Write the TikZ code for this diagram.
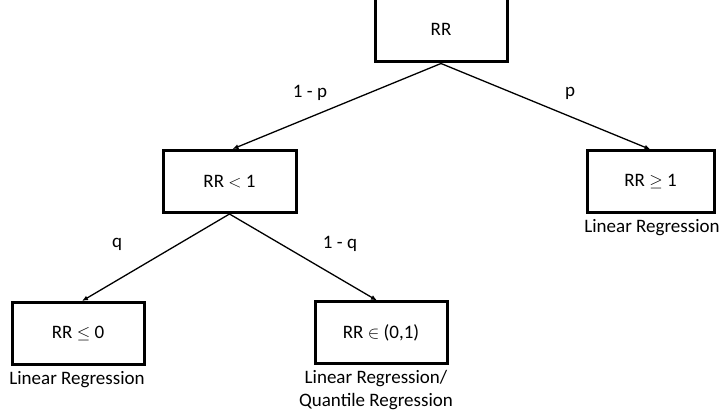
\documentclass[tikz,border=0pt]{standalone}
\usepackage{fontspec}
\usepackage{amssymb}
\setmainfont{Carlito}
\usetikzlibrary{arrows.meta,calc}
\begin{document}
\begin{tikzpicture}[x=1pt,y=-1pt,
  box/.style={draw,line width=3pt,rectangle,minimum width=#1,minimum height=62pt,inner sep=0pt,font=\fontsize{19}{22}\selectfont},
  box/.default=132pt,
  lbl/.style={font=\fontsize{19}{23}\selectfont,inner sep=0pt,align=center},
  conn/.style={line width=1.3pt,-{Latex[length=6pt,width=5pt]}}]
\useasboundingbox (0,0) rectangle (720,419);
\node[box,minimum height=66pt] (root) at (441,29) {RR};
\node[box=133pt] (lt) at (229.5,181.5) {RR $<$ 1};
\node[box=127pt] (ge) at (650.5,182) {RR $\geq$ 1};
\node[box] (le) at (78,333.5) {RR $\leq$ 0};
\node[box] (in) at (381,333) {RR $\in$ (0,1)};
\node[lbl] (gel) at (652,228) {Linear Regression};
\node[lbl] (lel) at (77,380) {Linear Regression};
\node[lbl] (inl) at (376,390) {Linear Regression/\\Quantile Regression};
\draw[conn] (root.south) -- ([xshift=3pt]lt.north);
\draw[conn] (root.south) -- (ge.north);
\draw[conn] (lt.south) -- ([xshift=4pt]le.north);
\draw[conn] (lt.south) -- ([xshift=-4pt]in.north);
\node[lbl] (p1) at (310,93) {1 - p};
\node[lbl] (p2) at (570,93) {p};
\node[lbl] (q1) at (117,244) {q};
\node[lbl] (q2) at (340,244) {1 - q};
\end{tikzpicture}
\end{document}
